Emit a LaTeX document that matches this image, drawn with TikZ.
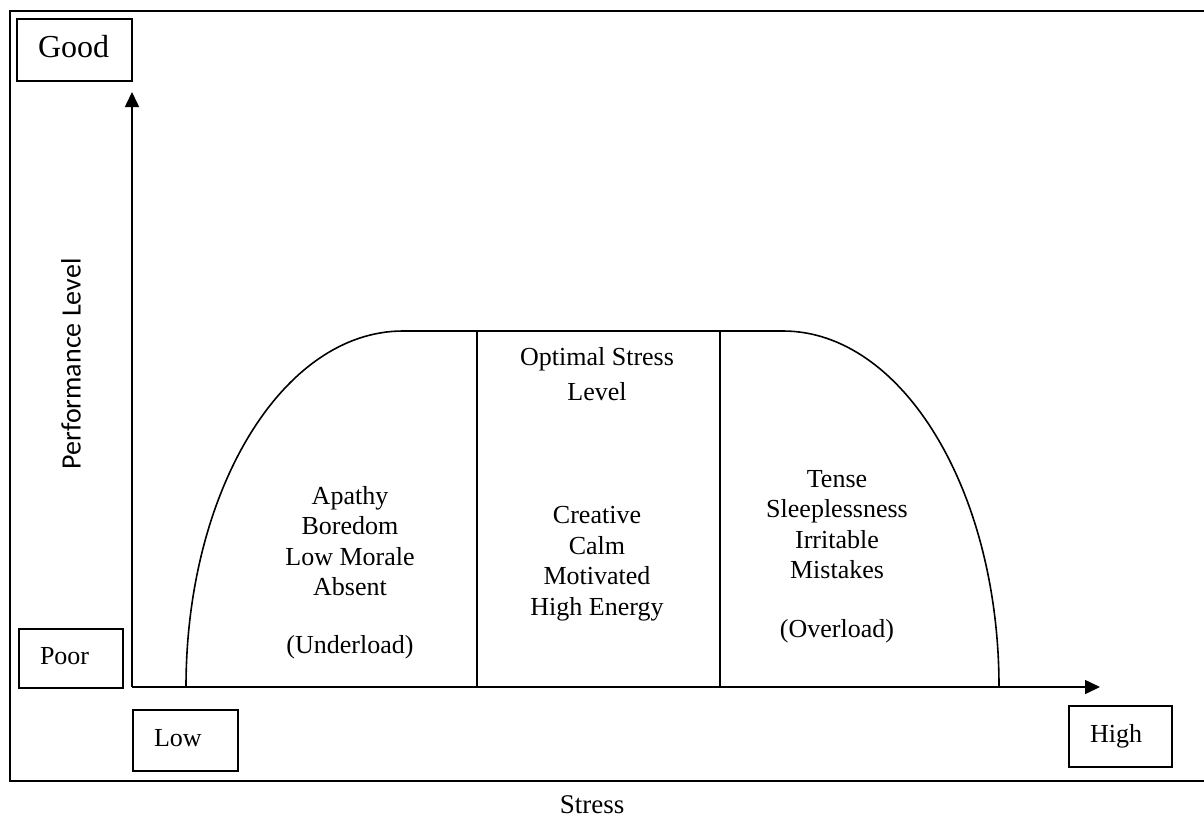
\documentclass[tikz,border=0pt]{standalone}
\usepackage{fontspec}
\setmainfont{Liberation Serif}
\newfontfamily\calfont{Carlito}
\usetikzlibrary{arrows.meta}
\begin{document}
\begin{tikzpicture}[x=1pt,y=-1pt,
  line/.style={line width=1.6pt},
  labelbox/.style={draw, line width=1.6pt, rectangle, inner xsep=21pt, inner ysep=0pt,
    align=left, text height=18pt, text depth=6pt, font=\fontsize{26}{30}\selectfont},
  lbl/.style={align=center, inner sep=0pt, font=\fontsize{26}{30.5}\selectfont},
  axisarrow/.style={line width=1.6pt, -{Triangle[length=15pt,width=14pt]}}
]
\useasboundingbox (0,0) rectangle (1204,827);
% frame (open on the right)
\draw[line] (1204,11) -- (10,11) -- (10,781) -- (1204,781);
% boxes
\node[labelbox, text width=73pt, minimum height=62pt, text height=22pt, text depth=7pt,
      font=\fontsize{32}{36}\selectfont] (good) at (74.5,50) {Good};
\node[labelbox, text width=62pt, minimum height=59pt] (poor) at (71,658.5) {Poor};
\node[labelbox, text width=63pt, minimum height=61pt] (low) at (185.5,740.5) {Low};
\node[labelbox, text width=61pt, minimum height=61pt] (high) at (1120.5,736.5) {High};
% axes
\coordinate (origin) at (132,687);
\coordinate (ytip) at (132,92);
\coordinate (xtip) at (1100,687);
\draw[axisarrow] (origin) -- (ytip);
\draw[axisarrow] (origin) -- (xtip);
% curve
\coordinate (lfoot) at (186,687);
\coordinate (ltop) at (403,331);
\coordinate (rtop) at (783,331);
\coordinate (rfoot) at (999,687);
\draw[line] (lfoot) .. controls (186,490) and (283,331) .. (ltop) -- (rtop)
  .. controls (902,331) and (999,490) .. (rfoot);
\coordinate (v1t) at (477,331);
\coordinate (v1b) at (477,687);
\coordinate (v2t) at (720,331);
\coordinate (v2b) at (720,687);
\draw[line] (v1t) -- (v1b);
\draw[line] (v2t) -- (v2b);
% texts (anchor=base is the baseline of the last line)
\node[lbl, anchor=base] (under) at (350,653) {Apathy\\Boredom\\Low Morale\\Absent\\[27pt](Underload)};
\node[lbl, anchor=base, font=\fontsize{26}{35}\selectfont] (opt) at (597,400) {Optimal Stress\\Level};
\node[lbl, anchor=base] (mid) at (597,615) {Creative\\Calm\\Motivated\\High Energy};
\node[lbl, anchor=base] (over) at (837,637) {Tense\\Sleeplessness\\Irritable\\Mistakes\\[28pt](Overload)};
\node[rotate=90, inner sep=0pt, font=\calfont\fontsize{28}{30}\selectfont] (perf) at (71,364) {Performance Level};
\node[anchor=base, inner sep=0pt, font=\fontsize{27}{30}\selectfont] (stress) at (592,813) {Stress};
\end{tikzpicture}
\end{document}
